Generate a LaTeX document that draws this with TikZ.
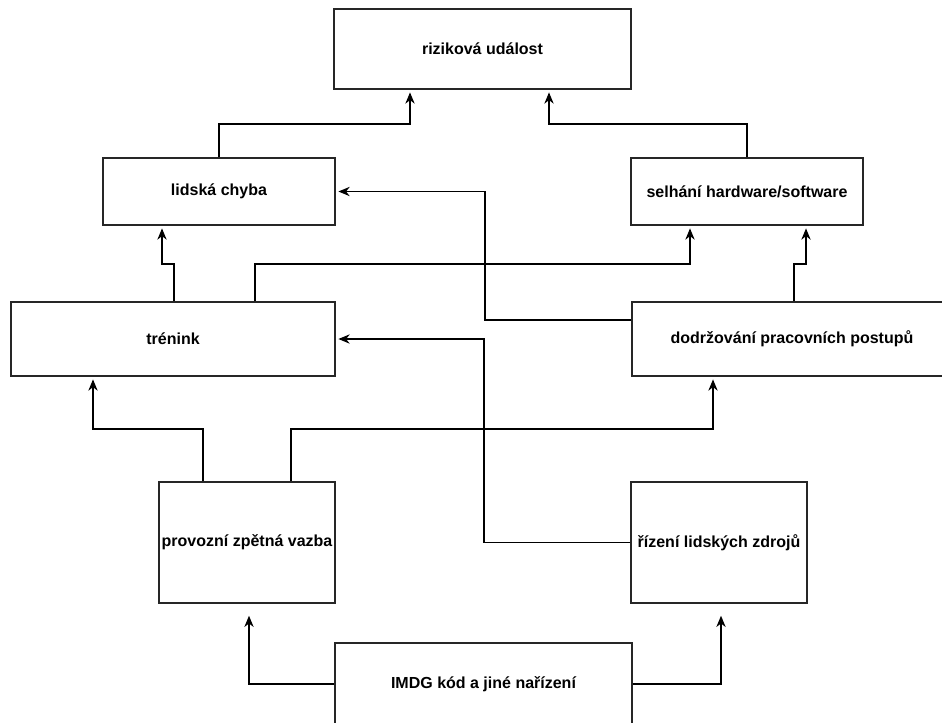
\documentclass[tikz,border=0pt]{standalone}
\usepackage{fontspec}
\setmainfont{Liberation Sans}
\usetikzlibrary{arrows.meta}

\begin{document}
\begin{tikzpicture}[x=0.75pt,y=-0.75pt,
  box/.style={draw=black!85,line width=1.1pt,fill=white,inner sep=1pt,
    font=\bfseries\fontsize{12}{14}\selectfont},
  link/.style={draw=black,line width=0.9pt,-{Stealth[length=8.5pt,width=7pt]},shorten >=2pt}]

\useasboundingbox (0,0) rectangle (942,722);

% boxes
\node[box,minimum width=222.75pt,minimum height=60pt] (riz) at (482.5,49) {riziková událost};
\node[box,minimum width=174pt,minimum height=50.25pt] (lid) at (219,191.5) {lidská chyba};
\node[box,minimum width=174pt,minimum height=50.25pt] (sel) at (747,191.5) {selhání hardware/software};
\node[box,minimum width=243pt,minimum height=55.5pt] (tre) at (173,339) {trénink};
\node[box,minimum width=240pt,minimum height=55.5pt] (dod) at (792,339) {dodržování pracovních postupů};
\node[box,minimum width=132pt,minimum height=90.75pt] (pro) at (247,542.5) {provozní zpětná vazba};
\node[box,minimum width=132pt,minimum height=90.75pt] (hr) at (719,542.5) {řízení lidských zdrojů};
\node[box,minimum width=222.75pt,minimum height=61.5pt] (imdg) at (483.5,684) {IMDG kód a jiné nařízení};

% bends
\coordinate (k1) at (410,124);
\coordinate (k2) at (549,124);
\coordinate (s3) at (174,264);
\coordinate (k3) at (162,264);
\coordinate (s4) at (255,264);
\coordinate (k4) at (690,264);
\coordinate (s5) at (794,264);
\coordinate (k5) at (806,264);
\coordinate (s6) at (485,320);
\coordinate (s7) at (203,429);
\coordinate (k7) at (93,429);
\coordinate (s8) at (291,429);
\coordinate (k8) at (713,429);
\coordinate (s9) at (484,542);
\coordinate (k10) at (249,683);
\coordinate (k11) at (721,683);

% links
\draw[link] (lid.north) |- (k1) -- (k1 |- riz.south);
\draw[link] (sel.north) |- (k2) -- (k2 |- riz.south);
\draw[link] (s3 |- tre.north) |- (k3) -- (k3 |- lid.south);
\draw[link] (s4 |- tre.north) |- (k4) -- (k4 |- sel.south);
\draw[link] (s5 |- dod.north) |- (k5) -- (k5 |- sel.south);
\draw[link] (s6 -| dod.west) -- (s6) |- (lid.east);
\draw[link] (s7 |- pro.north) |- (k7) -- (k7 |- tre.south);
\draw[link] (s8 |- pro.north) |- (k8) -- (k8 |- dod.south);
\draw[link] (hr.west) -- (hr.west -| s9) |- (tre.east);
\draw[link,shorten >=9pt] (imdg.west) -| (k10 |- pro.south);
\draw[link,shorten >=9pt] (imdg.east) -| (k11 |- hr.south);

\end{tikzpicture}
\end{document}
